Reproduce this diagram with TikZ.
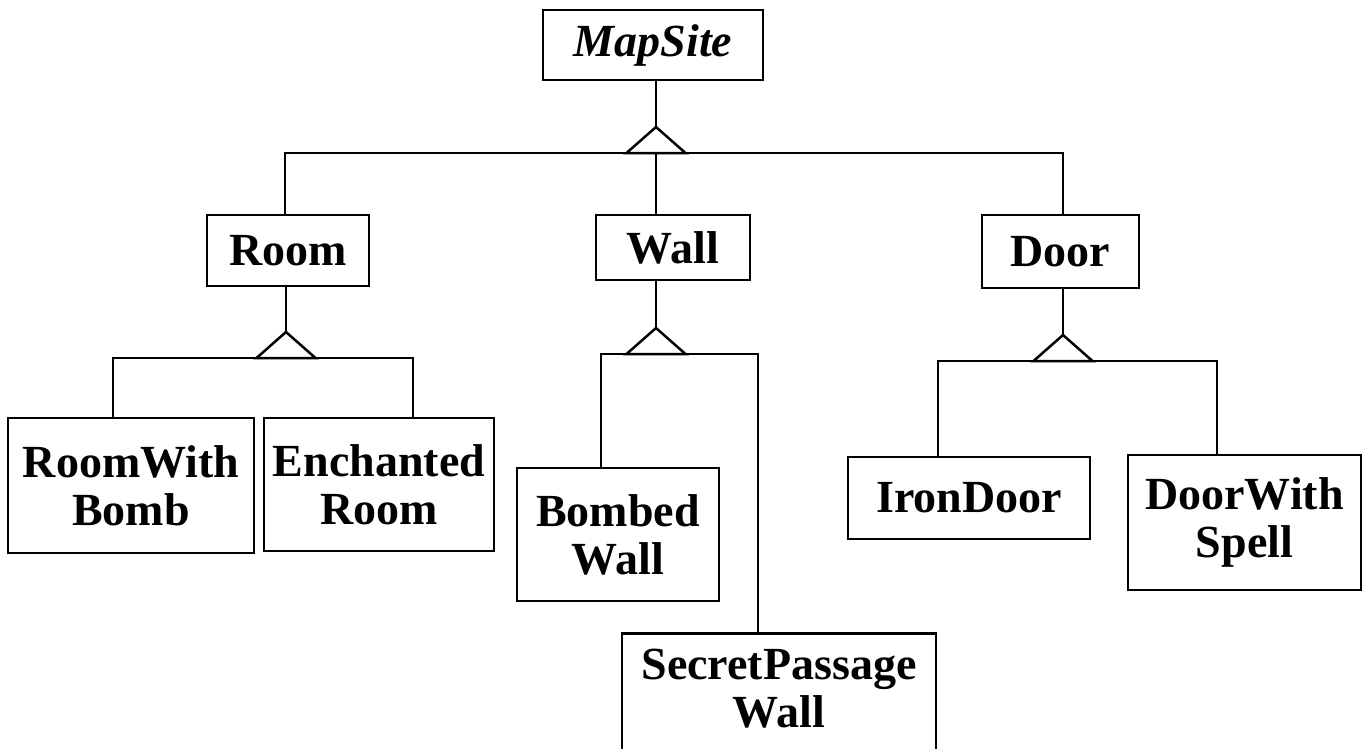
\documentclass[tikz,border=0pt]{standalone}
\usepackage{fontspec}
\setmainfont{Liberation Serif}
\usepackage{tikz}

\tikzset{
  cls/.style={draw, align=center, inner sep=0pt,
    font=\fontsize{46}{48}\selectfont\bfseries},
  gen/.style={draw, fill=white, line join=miter}
}

\begin{document}
\begin{tikzpicture}[x=1pt, y=-1pt, line width=2.5pt]
  \clip (0,0) rectangle (1362,748);

  % classes
  \node[cls, font=\fontsize{46}{48}\selectfont\bfseries\itshape,
        minimum width=220, minimum height=70] (mapsite) at (653,45) {MapSite};
  \node[cls, minimum width=162, minimum height=71] (room) at (288,250.5) {Room};
  \node[cls, minimum width=154, minimum height=65] (wall) at (673,247.5) {Wall};
  \node[cls, minimum width=157, minimum height=73] (door) at (1060.5,251.5) {Door};

  \node[cls, minimum width=246, minimum height=135] (roombomb) at (131,485.5) {RoomWith\\Bomb};
  \node[cls, minimum width=230, minimum height=133] (enchroom) at (379,484.5) {Enchanted\\Room};
  \node[cls, minimum width=202, minimum height=133] (bombwall) at (618,534.5) {Bombed\\Wall};
  \node[cls, anchor=north, minimum width=314, inner ysep=16pt, text depth=110pt]
        (secretwall) at (779,632) {SecretPassage\\Wall};
  \node[cls, minimum width=242, minimum height=82] (irondoor) at (969,498) {IronDoor};
  \node[cls, minimum width=233, minimum height=135] (spelldoor) at (1244.5,522.5) {DoorWith\\Spell};

  % MapSite subclasses
  \coordinate (t0) at (656,127);
  \coordinate (b0l) at (285,153);
  \coordinate (b0r) at (1063,153);
  \draw (mapsite.south -| t0) -- (t0);
  \draw (room.north -| b0l) -- (b0l) -- (b0r) -- (door.north -| b0r);
  \draw (t0 |- b0l) -- (wall.north -| t0);
  \draw[gen] (t0) -- ++(-29.5,26) -- ++(59,0) -- cycle;

  % Room subclasses
  \coordinate (t1) at (286,332);
  \coordinate (b1l) at (113,358);
  \coordinate (b1r) at (413,358);
  \draw (room.south -| t1) -- (t1);
  \draw (roombomb.north -| b1l) -- (b1l) -- (b1r) -- (enchroom.north -| b1r);
  \draw[gen] (t1) -- ++(-29.5,26) -- ++(59,0) -- cycle;

  % Wall subclasses
  \coordinate (t2) at (656,328);
  \coordinate (b2l) at (601,354);
  \coordinate (b2r) at (758,354);
  \draw (wall.south -| t2) -- (t2);
  \draw (bombwall.north -| b2l) -- (b2l) -- (b2r) -- (secretwall.north -| b2r);
  \draw[gen] (t2) -- ++(-29.5,26) -- ++(59,0) -- cycle;

  % Door subclasses
  \coordinate (t3) at (1063,335);
  \coordinate (b3l) at (938,361);
  \coordinate (b3r) at (1217,361);
  \draw (door.south -| t3) -- (t3);
  \draw (irondoor.north -| b3l) -- (b3l) -- (b3r) -- (spelldoor.north -| b3r);
  \draw[gen] (t3) -- ++(-29.5,26) -- ++(59,0) -- cycle;

\end{tikzpicture}
\end{document}
